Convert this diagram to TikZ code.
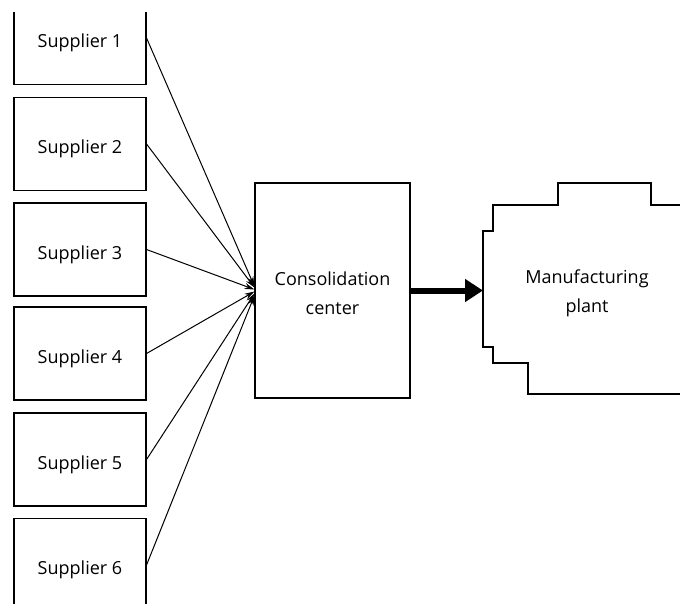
\documentclass[tikz,border=0pt]{standalone}
\usepackage{fontspec}
\setmainfont{Open Sans}
\usetikzlibrary{arrows.meta}
\newcommand{\dropit}[1]{\raisebox{-5pt}[\height][\depth]{#1}}
\begin{document}
\begin{tikzpicture}[x=1pt,y=-1pt,
  sup/.style={draw, line width=1.1pt, minimum width=132pt, minimum height=93pt, inner sep=0pt, font=\fontsize{18}{20}\selectfont},
  feed/.style={-{Stealth[length=10pt,width=6pt]}, line width=1pt},
  big/.style={line width=6pt, -{Triangle[length=18pt,width=22pt]}},
  lbl/.style={align=center, font=\fontsize{18}{29}\selectfont, inner sep=0pt}]
\useasboundingbox (0,0) rectangle (680,603);
\clip (0,12) rectangle (680,603);
\node[sup] (s1) at (80,38) {\dropit{Supplier 1}};
\node[sup] (s2) at (80,144) {\dropit{Supplier 2}};
\node[sup] (s3) at (80,249.5) {\dropit{Supplier 3}};
\node[sup] (s4) at (80,353.5) {\dropit{Supplier 4}};
\node[sup] (s5) at (80,459.5) {\dropit{Supplier 5}};
\node[sup] (s6) at (80,565) {\dropit{Supplier 6}};
\node[draw, line width=1.1pt, minimum width=155pt, minimum height=215pt, inner sep=0pt] (cons) at (332.5,290.5) {};
\node[lbl] (constext) at (332.5,293) {Consolidation\\center};
\draw[line width=1.1pt] (700,205) -- (651,205) -- (651,183) -- (558,183) -- (558,205) -- (493,205) -- (493,231) -- (483,231) -- (483,347) -- (493,347) -- (493,363) -- (528,363) -- (528,394) -- (700,394);
\node[lbl] (plant) at (587,293) {Manufacturing\\plant};
\coordinate (pin) at (483,290.5);
\draw[feed] (s1.east) -- ([yshift=4pt]cons.west);
\draw[feed] (s2.east) -- ([yshift=3pt]cons.west);
\draw[feed] (s3.east) -- ([yshift=1pt]cons.west);
\draw[feed] (s4.east) -- ([yshift=-1pt]cons.west);
\draw[feed] (s5.east) -- ([yshift=-3pt]cons.west);
\draw[feed] (s6.east) -- ([yshift=-5pt]cons.west);
\draw[big] (cons.east) -- (pin);
\end{tikzpicture}
\end{document}
